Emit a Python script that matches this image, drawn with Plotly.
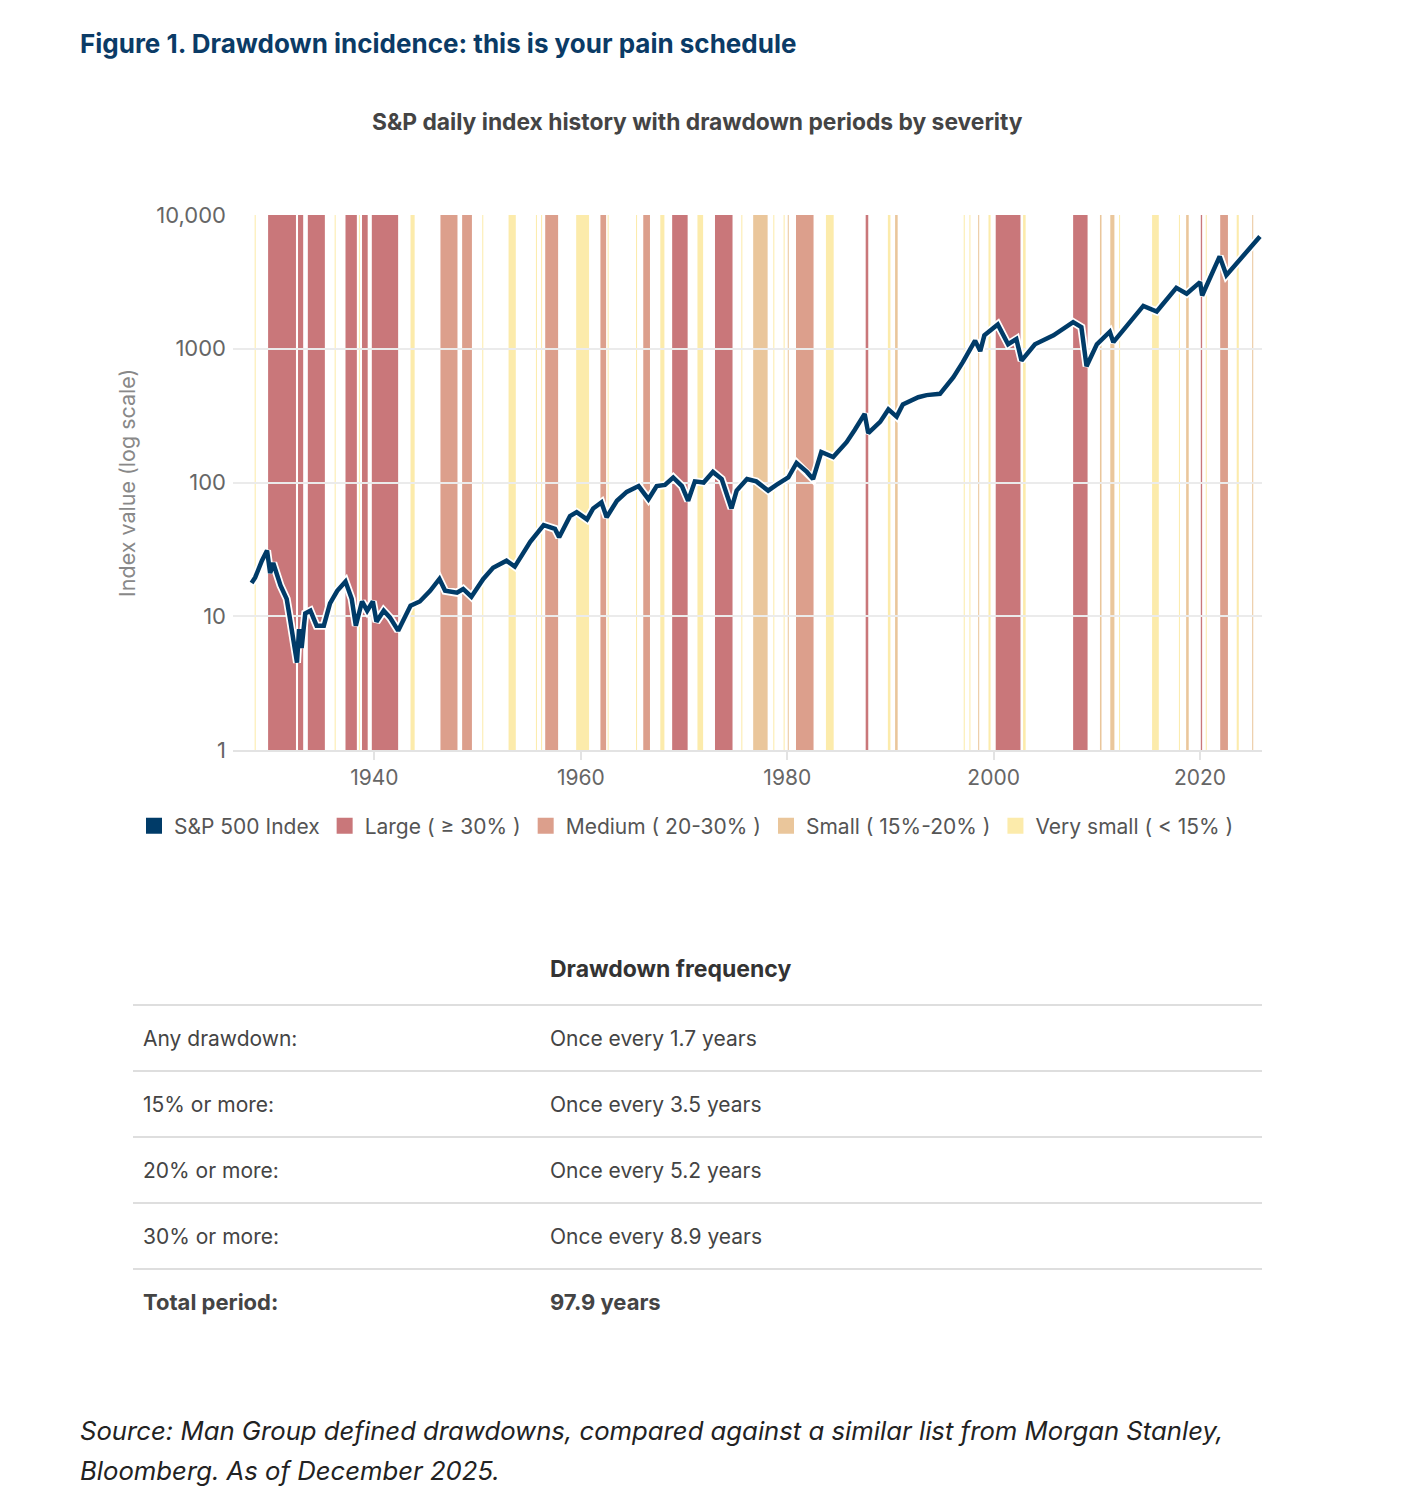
import plotly.graph_objects as go

# page body adds an 8px margin, so the figure is a bit smaller than the window
OFF = 8
W, H = 1401 - 2 * OFF, 1496 - 2 * OFF

# S&P 500 index (decimal year, index level)
years = [1928.1, 1928.45, 1929.1, 1929.6, 1929.9, 1930.2, 1930.9, 1931.5, 1931.8, 1932.5,
         1932.7, 1932.95, 1933.3, 1933.8, 1934.4, 1935.1, 1935.7, 1936.4, 1937.2, 1937.8,
         1938.2, 1938.8, 1939.3, 1939.85, 1940.2, 1940.9, 1941.5, 1942.3, 1943.5, 1944.4,
         1945.4, 1946.3, 1946.85, 1948.0, 1948.6, 1949.4, 1950.55, 1951.5, 1952.8, 1953.6,
         1955.1, 1956.4, 1957.5, 1957.9, 1958.95, 1959.6, 1960.6, 1961.2, 1962.0, 1962.5,
         1963.5, 1964.45, 1965.6, 1966.55, 1967.35, 1968.15, 1968.95, 1969.8, 1970.4, 1971.05,
         1971.9, 1972.8, 1973.65, 1974.6, 1975.1, 1976.1, 1977.0, 1978.15, 1978.95, 1980.1,
         1980.9, 1981.9, 1982.5, 1983.3, 1984.45, 1985.75, 1986.55, 1987.5, 1987.85, 1989.0,
         1989.8, 1990.6, 1991.2, 1992.7, 1993.5, 1994.8, 1996.1, 1997.0, 1998.2, 1998.7,
         1999.1, 2000.4, 2001.4, 2002.2, 2002.7, 2004.0, 2005.8, 2007.7, 2008.5, 2009.0,
         2010.0, 2011.25, 2011.6, 2012.9, 2014.5, 2015.8, 2017.7, 2018.7, 2020.0, 2020.2,
         2021.9, 2022.55, 2023.7, 2025.1, 2025.8]
index_vals = [17.7, 19.5, 26, 31, 21, 25, 17, 13.5, 9.8, 4.5,
              8, 5.8, 10.5, 11, 8.5, 8.5, 12.5, 15.5, 18.2, 13.5,
              8.5, 12.9, 11, 12.9, 9.1, 11, 9.8, 7.8, 12, 12.9,
              15.5, 19, 15.5, 15, 16, 14, 19, 23, 26, 23.5,
              36, 48, 45, 39, 56, 60, 53, 64, 71, 55,
              73, 85, 94, 75, 94, 96, 109, 94, 73, 102,
              100, 120, 106, 64, 87, 106, 102, 87, 96, 109,
              140, 120, 106, 169, 155, 200, 248, 326, 234, 284,
              352, 311, 383, 434, 450, 460, 613, 790, 1150, 960,
              1260, 1520, 1080, 1180, 815, 1080, 1260, 1580, 1450, 740,
              1080, 1340, 1120, 1490, 2090, 1900, 2850, 2580, 3150, 2500,
              4900, 3550, 4450, 5900, 6900]

# drawdown periods (start, end) by severity
large_start = [1929.7, 1932.6, 1933.55, 1937.2, 1938.8, 1939.75, 1968.85, 1973.0, 1987.6, 2000.2, 2007.7, 2020.07]
large_end = [1932.4, 1933.1, 1935.2, 1938.3, 1939.35, 1942.3, 1970.35, 1974.7, 1987.85, 2002.6, 2009.1, 2020.2]
medium_start = [1946.4, 1948.5, 1956.55, 1961.9, 1966.05, 1980.85, 2021.95]
medium_end = [1948.05, 1949.45, 1957.8, 1962.45, 1966.7, 1982.55, 2022.7]
small_start = [1976.7, 1980.05, 1990.45, 1998.5, 2010.3, 2011.3, 2018.65, 2025.05]
small_end = [1978.1, 1980.15, 1990.7, 1998.6, 2010.45, 2011.7, 2018.9, 2025.15]
vsmall_start = [1928.4, 1936.15, 1938.5, 1943.5, 1950.45, 1953.0, 1955.65, 1956.15, 1959.55,
                1962.6, 1965.35, 1967.7, 1971.3, 1975.55, 1978.65, 1979.65, 1983.75, 1989.75,
                1997.1, 1997.65, 1999.5, 2002.85, 2012.15, 2015.35, 2017.95, 2020.55, 2023.55]
vsmall_end = [1928.5, 1936.25, 1938.6, 1943.9, 1950.55, 1953.7, 1955.75, 1956.25, 1960.8,
              1962.7, 1965.45, 1968.1, 1971.85, 1975.65, 1978.75, 1979.75, 1984.5, 1990.0,
              1997.2, 1997.75, 1999.7, 2003.1, 2012.25, 2016.0, 2018.05, 2020.65, 2023.75]

legend_names = ["S&P 500 Index", "Large ( ≥ 30% )", "Medium ( 20-30% )",
                "Small ( 15%-20% )", "Very small ( &lt; 15% )"]

row_labels = ["Any drawdown:", "15% or more:", "20% or more:", "30% or more:", "Total period:"]
row_values = ["Once every 1.7 years", "Once every 3.5 years", "Once every 5.2 years",
              "Once every 8.9 years", "97.9 years"]

NAVY = "#003b68"
band_colors = ["#c9777a", "#dc9f8c", "#eac69b", "#fcebab"]
FONT = "Inter"


def px(x):
    return (x - OFF) / W


def py(y):
    return 1 - (y - OFF) / H


fig = go.Figure()

# drawdown bands
bands = [(large_start, large_end), (medium_start, medium_end),
         (small_start, small_end), (vsmall_start, vsmall_end)]
for (starts, ends), col in zip(bands, band_colors):
    for s, e in zip(starts, ends):
        fig.add_vrect(x0=s, x1=e, fillcolor=col, opacity=1, line_width=0, layer="below")

# index line with a thin white halo
fig.add_trace(go.Scatter(x=years, y=index_vals, mode="lines",
                         line=dict(color="white", width=8), showlegend=False, hoverinfo="skip"))
fig.add_trace(go.Scatter(x=years, y=index_vals, mode="lines",
                         line=dict(color=NAVY, width=4.5), showlegend=False))

# legend entries
for name, col in zip(legend_names, [NAVY] + band_colors):
    fig.add_trace(go.Scatter(x=[None], y=[None], mode="markers", name=name,
                             marker=dict(symbol="square", size=20, color=col)))

fig.update_xaxes(range=[1926.3, 2026.0], tickvals=[1940, 1960, 1980, 2000, 2020],
                 showgrid=False, showline=True, linecolor="#e3e3e3", linewidth=2,
                 ticks="outside", ticklen=8, tickcolor="#e3e3e3", tickwidth=1.5,
                 tickfont=dict(family=FONT, size=21, color="#666"), zeroline=False,
                 domain=[px(233), px(1262)])
fig.update_yaxes(type="log", range=[0, 4], tickvals=[1, 10, 100, 1000, 10000],
                 ticktext=["1", "10", "100", "1000", "10,000"],
                 showgrid=True, gridcolor="#ebebeb", gridwidth=1.5, zeroline=False,
                 tickfont=dict(family=FONT, size=22, color="#666"), ticklabelstandoff=6,
                 domain=[py(750), py(215)])

anns = [
    dict(text="<b>Figure 1. Drawdown incidence: this is your pain schedule</b>",
         x=px(78), y=py(43), xanchor="left", font=dict(size=26, color="#0b3b66")),
    dict(text="<b>S&P daily index history with drawdown periods by severity</b>",
         x=px(697), y=py(122), xanchor="center", font=dict(size=22.8, color="#444")),
    dict(text="Index value (log scale)", x=px(127), y=py(483), xanchor="center",
         textangle=-90, font=dict(size=21.5, color="#888")),
    dict(text="<b>Drawdown frequency</b>", x=px(548), y=py(969), xanchor="left",
         font=dict(size=23, color="#333")),
    dict(text="<i>Source: Man Group defined drawdowns, compared against a similar list from Morgan Stanley,</i>",
         x=px(78), y=py(1430), xanchor="left", font=dict(size=25.7, color="#222")),
    dict(text="<i>Bloomberg. As of December 2025.</i>",
         x=px(78), y=py(1470), xanchor="left", font=dict(size=25.7, color="#222")),
]

# table rows
for i, (lab, val) in enumerate(zip(row_labels, row_values)):
    yc = 1038 + i * 66
    size = 21
    if i == len(row_labels) - 1:
        lab, val = "<b>" + lab + "</b>", "<b>" + val + "</b>"
        size = 22
    anns.append(dict(text=lab, x=px(141), y=py(yc), xanchor="left",
                     font=dict(size=size, color="#444")))
    anns.append(dict(text=val, x=px(548), y=py(yc), xanchor="left",
                     font=dict(size=size, color="#444")))
    fig.add_shape(type="line", xref="paper", yref="paper", x0=px(133), x1=px(1262),
                  y0=py(yc - 33), y1=py(yc - 33), line=dict(color="#dedede", width=2))

for a in anns:
    a.update(xref="paper", yref="paper", yanchor="middle", showarrow=False)
    a["font"]["family"] = FONT
fig.update_layout(annotations=anns)

fig.update_layout(
    width=W, height=H,
    margin=dict(l=0, r=0, t=0, b=0, autoexpand=False),
    paper_bgcolor="white", plot_bgcolor="white",
    font=dict(family=FONT),
    legend=dict(orientation="h", x=px(134), xanchor="left", y=py(826), yanchor="middle",
                font=dict(size=21, color="#555"), itemwidth=30, tracegroupgap=0),
)

fig.write_html("out.html")
